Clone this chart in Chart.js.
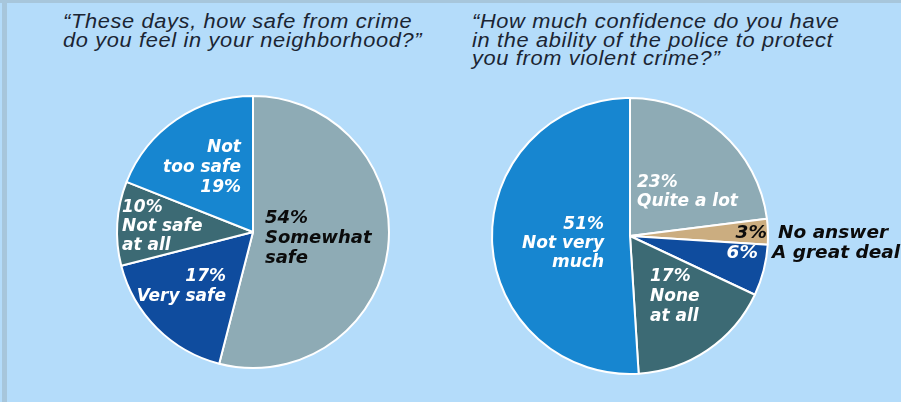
<!DOCTYPE html>
<html>
<head>
<meta charset="utf-8">
<script src="https://cdn.jsdelivr.net/npm/chart.js@4.4.1/dist/chart.umd.min.js"></script>
<style>
  html, body { margin: 0; padding: 0; }
  body { width: 901px; height: 402px; background: #b4dcfa; position: relative; overflow: hidden; }
  .frameLeft { position: absolute; left: 2px; top: 0; width: 5px; height: 402px; background: #a7c6db; }
  .frameTop { position: absolute; left: 0; top: 0; width: 901px; height: 3px; background: #a7c6db; }
  .title { position: absolute; font-family: "Liberation Sans", Arial, sans-serif; font-style: italic;
           font-size: 20px; letter-spacing: 0.6px; line-height: 18.5px; color: #1b2533; white-space: pre;
           transform: scaleX(1.09); transform-origin: left top; }
  canvas { position: absolute; top: 0; }
</style>
</head>
<body>
<div class="frameTop"></div>
<div class="frameLeft"></div>
<div class="title" id="leftTitle" style="left:63px; top:12px;"></div>
<div class="title" id="rightTitle" style="left:472px; top:12px;"></div>
<canvas id="leftPie" width="450" height="402" style="left:0px;"></canvas>
<canvas id="rightPie" width="451" height="402" style="left:450px;"></canvas>
<script>
// question texts
var leftQuestion = ['\u201cThese days, how safe from crime', 'do you feel in your neighborhood?\u201d'];
var rightQuestion = ['\u201cHow much confidence do you have', 'in the ability of the police to protect', 'you from violent crime?\u201d'];

// left pie: feeling of safety
var leftCategories = ['Somewhat\nsafe', 'Very safe', 'Not safe\nat all', 'Not\ntoo safe'];
var leftValues = [54, 17, 10, 19];

// right pie: confidence in police
var rightCategories = ['Quite a lot', 'No answer', 'A great deal', 'None\nat all', 'Not very\nmuch'];
var rightValues = [23, 3, 6, 17, 51];

var leftColors = ['#8eabb5', '#0f4c9e', '#3c6a74', '#1786d0'];
var rightColors = ['#8eabb5', '#cbad80', '#0f4c9e', '#3c6a74', '#1786d0'];

document.getElementById('leftTitle').textContent = leftQuestion.join('\n');
document.getElementById('rightTitle').textContent = rightQuestion.join('\n');

var FONT = '"DejaVu Sans", sans-serif';

// label layout, offsets relative to pie centre
var leftLayout = [
	{dx: 12, dy: -14, gap: 20, align: 'left', color: '#0b0b0b', size: 18, pct: 'first'},
	{dx: -27, dy: 45, gap: 20, align: 'right', color: '#ffffff', size: 17, pct: 'first'},
	{dx: -131, dy: -24, gap: 19, align: 'left', color: '#ffffff', size: 17, pct: 'first'},
	{dx: -12, dy: -84, gap: 20, align: 'right', color: '#ffffff', size: 17, pct: 'last'}
];
var rightLayout = [
	{dx: 7, dy: -53, gap: 19, align: 'left', color: '#ffffff', size: 17, pct: 'first'},
	{dx: 137, dy: -3, align: 'right', color: '#0b0b0b', size: 18.5, pct: 'side', sideDx: 148, sideColor: '#0b0b0b'},
	{dx: 128, dy: 17, align: 'right', color: '#ffffff', size: 18.5, pct: 'side', sideDx: 142, sideColor: '#0b0b0b'},
	{dx: 20, dy: 41, gap: 20, align: 'left', color: '#ffffff', size: 17, pct: 'first'},
	{dx: -26, dy: -11, gap: 19, align: 'right', color: '#ffffff', size: 17, pct: 'first'}
];

var sliceLabels = {
	id: 'sliceLabels',
	afterDraw: function(chart, args, opts){
		var ctx = chart.ctx;
		var arc = chart.getDatasetMeta(0).data[0];
		var cx = arc.x, cy = arc.y;
		var values = chart.data.datasets[0].data;
		var cats = chart.data.labels;
		ctx.save();
		ctx.textBaseline = 'middle';
		for (var i = 0; i < values.length; i++) {
			var l = opts.layout[i];
			var pct = values[i] + '%';
			ctx.font = 'italic bold ' + l.size + 'px ' + FONT;
			ctx.fillStyle = l.color;
			ctx.textAlign = l.align;
			if (l.pct == 'side') {
				ctx.fillText(pct, cx + l.dx, cy + l.dy);
				ctx.fillStyle = l.sideColor;
				ctx.textAlign = 'left';
				ctx.fillText(cats[i], cx + l.sideDx, cy + l.dy);
				continue;
			}
			var lines = cats[i].split('\n');
			if (l.pct == 'first') lines.unshift(pct); else lines.push(pct);
			for (var j = 0; j < lines.length; j++) {
				ctx.fillText(lines[j], cx + l.dx, cy + l.dy + j * l.gap);
			}
		}
		ctx.restore();
	}
};

function makePie(id, labels, values, colors, radius, padding, layout){
	return new Chart(document.getElementById(id), {
		type: 'pie',
		data: {
			labels: labels,
			datasets: [{
				data: values,
				backgroundColor: colors,
				borderColor: '#ffffff',
				borderWidth: 2
			}]
		},
		options: {
			responsive: false,
			animation: false,
			radius: radius,
			layout: {padding: padding},
			plugins: {
				legend: {display: false},
				tooltip: {enabled: false},
				sliceLabels: {layout: layout}
			}
		},
		plugins: [sliceLabels]
	});
}

makePie('leftPie', leftCategories, leftValues, leftColors, 136, {left: 56, right: 0, top: 62, bottom: 0}, leftLayout);
makePie('rightPie', rightCategories, rightValues, rightColors, 138, {left: 0, right: 91, top: 70, bottom: 0}, rightLayout);
</script>
</body>
</html>
